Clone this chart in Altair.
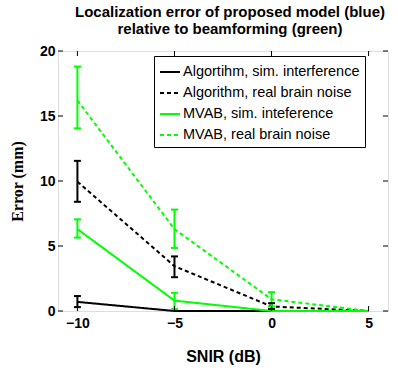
import altair as alt
import pandas as pd

snir = [-10, -5, 0, 5]
series_names = [
    "Algortihm, sim. interference",
    "Algorithm, real brain noise",
    "MVAB, sim. inteference",
    "MVAB, real brain noise",
]
alg_sim = [0.7, 0.0, 0.0, 0.0]
alg_sim_lo = [0.3, 0.0, 0.0, 0.0]
alg_sim_hi = [1.15, 0.0, 0.0, 0.0]
alg_real = [9.95, 3.45, 0.35, 0.0]
alg_real_lo = [8.4, 2.6, 0.15, 0.0]
alg_real_hi = [11.55, 4.2, 0.6, 0.0]
mvab_sim = [6.3, 0.8, 0.0, 0.0]
mvab_sim_lo = [5.65, 0.15, 0.0, 0.0]
mvab_sim_hi = [7.05, 1.4, 0.0, 0.0]
mvab_real = [16.2, 6.3, 0.9, 0.0]
mvab_real_lo = [14.05, 4.85, 0.35, 0.0]
mvab_real_hi = [18.8, 7.8, 1.45, 0.0]

x_ticks = [-10, -5, 0, 5]
y_ticks = [0, 5, 10, 15, 20]
x_domain = [-11, 6]
y_domain = [0, 20]

rows = []
for name, v, lo, hi in [
    (series_names[0], alg_sim, alg_sim_lo, alg_sim_hi),
    (series_names[1], alg_real, alg_real_lo, alg_real_hi),
    (series_names[2], mvab_sim, mvab_sim_lo, mvab_sim_hi),
    (series_names[3], mvab_real, mvab_real_lo, mvab_real_hi),
]:
    for i, s in enumerate(snir):
        rows.append({"series": name, "snir": s, "err": v[i], "lo": lo[i], "hi": hi[i]})
df = pd.DataFrame(rows)
df_bars = df[df["hi"] > df["lo"]]

colors = ["#000000", "#000000", "#00ff00", "#00ff00"]
dashes = [[1, 0], [4, 3], [1, 0], [4, 3]]

xs = alt.Scale(domain=x_domain, nice=False, zero=False)
ys = alt.Scale(domain=y_domain, nice=False, zero=False)
cs = alt.Scale(domain=series_names, range=colors)
ds = alt.Scale(domain=series_names, range=dashes)

SANS = "Liberation Sans"
SERIF = "Liberation Serif"
x_axis = alt.Axis(values=x_ticks, domain=False, ticks=False, grid=False, title="SNIR (dB)",
                  labelPadding=5, titlePadding=18, format="d",
                  labelFont=SANS, labelFontSize=14, labelFontWeight="bold", labelColor="black",
                  titleFont=SANS, titleFontSize=16, titleFontWeight="bold", titleColor="black")
y_axis = alt.Axis(values=y_ticks, domain=False, ticks=False, grid=False, title="Error (mm)",
                  labelPadding=3, titlePadding=14,
                  labelFont=SANS, labelFontSize=14, labelFontWeight="bold", labelColor="black",
                  titleFont=SERIF, titleFontSize=16, titleColor="black",
                  titleFontWeight="bold")

legend = alt.Legend(title=None, orient="none", legendX=96, legendY=5,
                    symbolType="stroke", symbolSize=400, symbolStrokeWidth=2,
                    labelFont=SANS, labelFontSize=14.5, labelFontWeight="normal",
                    labelColor="black",
                    labelOffset=2, rowPadding=3, padding=5, strokeColor="#000000",
                    fillColor="#ffffff", labelLimit=400)

X = lambda f: alt.X(f, scale=xs, axis=x_axis)
Y = lambda f: alt.Y(f, scale=ys, axis=y_axis)

base = alt.Chart(df)

lines = base.mark_line(strokeWidth=2).encode(
    x=X("snir:Q"),
    y=Y("err:Q"),
    color=alt.Color("series:N", scale=cs, legend=legend, sort=series_names),
    strokeDash=alt.StrokeDash("series:N", scale=ds, legend=legend, sort=series_names),
    detail="series:N",
    order="snir:Q",
)

bars_base = alt.Chart(df_bars)
rules = bars_base.mark_rule(strokeWidth=2).encode(
    x=X("snir:Q"),
    y=Y("lo:Q"),
    y2="hi:Q",
    color=alt.Color("series:N", scale=cs, legend=None),
)
caps_lo = bars_base.mark_tick(orient="horizontal", size=7, thickness=2, opacity=1).encode(
    x=X("snir:Q"),
    y=Y("lo:Q"),
    color=alt.Color("series:N", scale=cs, legend=None),
)
caps_hi = bars_base.mark_tick(orient="horizontal", size=7, thickness=2, opacity=1).encode(
    x=X("snir:Q"),
    y=Y("hi:Q"),
    color=alt.Color("series:N", scale=cs, legend=None),
)

xt = pd.DataFrame({"t": x_ticks})
yt = pd.DataFrame({"t": y_ticks})
xt_bottom = alt.Chart(xt).mark_rule(color="black", strokeWidth=1).encode(
    x=X("t:Q"),
    y=alt.value("height"), y2=alt.value(alt.expr("height - 5")))
xt_top = alt.Chart(xt).mark_rule(color="black", strokeWidth=1).encode(
    x=X("t:Q"),
    y=alt.value(0), y2=alt.value(5))
yt_left = alt.Chart(yt).mark_rule(color="black", strokeWidth=1).encode(
    y=Y("t:Q"),
    x=alt.value(0), x2=alt.value(5))
yt_right = alt.Chart(yt).mark_rule(color="black", strokeWidth=1).encode(
    y=Y("t:Q"),
    x=alt.value("width"), x2=alt.value(alt.expr("width - 5")))

chart = alt.layer(
    lines, rules, caps_lo, caps_hi, xt_bottom, xt_top, yt_left, yt_right
).properties(
    width=330,
    height=260,
    padding={"left": 58, "top": 51, "right": 10, "bottom": 59},
    autosize=alt.AutoSizeParams(type="none"),
    title=alt.Title(
        ["Localization error of proposed model (blue)", "relative to beamforming (green)"],
        font=SANS, fontSize=15, fontWeight="bold", anchor="middle",
        lineHeight=17, offset=7, dx=7, color="black",
    ),
).configure_view(
    stroke="black", strokeWidth=1.3
).configure(background="white")

chart.save("out.html", embed_options={"renderer": "svg", "actions": False})
